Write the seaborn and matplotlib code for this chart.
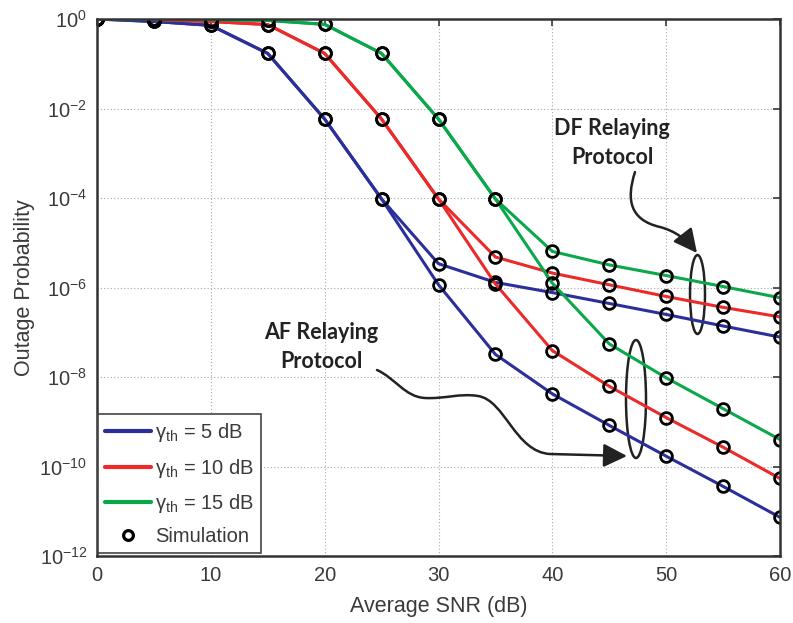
import numpy as np
import pandas as pd
import matplotlib
matplotlib.use("Agg")
import matplotlib.pyplot as plt
import seaborn as sns
from matplotlib.path import Path
from matplotlib.patches import FancyArrowPatch, Ellipse
from matplotlib.lines import Line2D

# ---- data -------------------------------------------------------------
snr_db = [0, 5, 10, 15, 20, 25, 30, 35, 40, 45, 50, 55, 60]
threshold_labels = ["5", "10", "15"]

# outage probability, gamma_th = 5 dB
p5_df = [1.0, 0.88, 0.72, 0.17, 5.8e-3, 9.5e-5, 3.4e-6, 1.3e-6, 7.7e-7, 4.4e-7, 2.5e-7, 1.38e-7, 7.8e-8]
p5_af = [1.0, 0.88, 0.72, 0.17, 5.8e-3, 9.5e-5, 1.15e-6, 3.2e-8, 4.2e-9, 8.3e-10, 1.7e-10, 3.6e-11, 7.3e-12]
# gamma_th = 10 dB
p10_df = [1.0, 0.97, 0.88, 0.75, 0.17, 5.8e-3, 9.5e-5, 4.8e-6, 2.1e-6, 1.15e-6, 6.3e-7, 3.6e-7, 2.2e-7]
p10_af = [1.0, 0.97, 0.88, 0.75, 0.17, 5.8e-3, 9.5e-5, 1.2e-6, 3.9e-8, 6.2e-9, 1.24e-9, 2.7e-10, 5.4e-11]
# gamma_th = 15 dB
p15_df = [1.0, 0.98, 0.97, 0.93, 0.76, 0.17, 5.8e-3, 9.5e-5, 6.4e-6, 3.2e-6, 1.85e-6, 1.05e-6, 5.9e-7]
p15_af = [1.0, 0.98, 0.97, 0.93, 0.76, 0.17, 5.8e-3, 9.5e-5, 1.25e-6, 5.5e-8, 9.6e-9, 1.96e-9, 4.0e-10]

y_exponents = [0, -2, -4, -6, -8, -10, -12]
x_ticks = [0, 10, 20, 30, 40, 50, 60]

curves = {
    ("5", "DF"): p5_df, ("5", "AF"): p5_af,
    ("10", "DF"): p10_df, ("10", "AF"): p10_af,
    ("15", "DF"): p15_df, ("15", "AF"): p15_af,
}
rows = []
for (th, proto), vals in curves.items():
    for s, p in zip(snr_db, vals):
        rows.append({"snr": s, "p": p, "threshold": th, "protocol": proto})
df = pd.DataFrame(rows)

# ---- style -------------------------------------------------------------
sns.set_style("white")
plt.rcParams["font.family"] = ["Liberation Sans", "DejaVu Sans"]
plt.rcParams["mathtext.fontset"] = "custom"
plt.rcParams["mathtext.rm"] = "Liberation Sans"

palette = {"5": "#2b2f9c", "10": "#ec2a2a", "15": "#0aa84a"}
ink = "#3a3a3a"

fig = plt.figure(figsize=(7.93, 6.23), dpi=100)
W, H = 793, 623
L, R, T, B = 97, 780, 19, 556
ax = fig.add_axes([L / W, 1 - B / H, (R - L) / W, (B - T) / H])
ax.set_yscale("log")

for th in threshold_labels:
    for proto in ["DF", "AF"]:
        sub = df[(df.threshold == th) & (df.protocol == proto)]
        sns.lineplot(data=sub, x="snr", y="p", ax=ax, color=palette[th],
                     lw=2.2, marker="o", markersize=8.5, markerfacecolor="none",
                     markeredgecolor="black", markeredgewidth=2.0, legend=False)

ax.set_xlim(0, 60)
ax.set_ylim(1e-12, 1)
ax.set_xticks(x_ticks)
ax.set_xticklabels([str(v) for v in x_ticks])
ax.set_yticks([10.0 ** e for e in y_exponents])
ax.set_yticklabels([r"$\mathregular{10^{%d}}$" % e for e in y_exponents])
ax.minorticks_off()
ax.tick_params(direction="in", top=True, right=True, length=5, width=1.2,
               labelsize=14.5, colors=ink, pad=7)
for sp in ax.spines.values():
    sp.set_linewidth(1.8)
    sp.set_color("#333333")
ax.grid(True, which="major", ls=(0, (1, 2)), color="#a8a8a8", lw=0.8)

ax.set_xlabel("Average SNR (dB)", fontsize=15.5, color=ink, labelpad=8)
ax.set_ylabel("Outage Probability", fontsize=15.5, color=ink, labelpad=3)

# ---- legend ------------------------------------------------------------
handles = [Line2D([], [], color=palette[th], lw=3) for th in threshold_labels]
handles.append(Line2D([], [], ls="none", marker="o", ms=7, mfc="none",
                      mec="black", mew=2.3))
labels = [r"γ$_{\mathregular{th}}$ = %s dB" % th for th in threshold_labels] + ["Simulation"]
leg = ax.legend(handles, labels, loc="lower left", bbox_to_anchor=(0.0015, 0.006),
                borderaxespad=0, fontsize=14.5, frameon=True, fancybox=False,
                edgecolor="#444444", framealpha=1, handlelength=2.3,
                handletextpad=0.2, labelspacing=0.6, borderpad=0.35)
leg.get_frame().set_linewidth(1.2)
for t in leg.get_texts():
    t.set_color(ink)


# ---- protocol annotations ----------------------------------------------
def frac(px, py):
    return ((px - L) / (R - L), (B - py) / (B - T))


note_font = dict(family="Lato", weight="bold", fontsize=15.5, color="#222222",
                 ha="center", va="center", linespacing=1.5, transform=ax.transAxes)
ax.text(*frac(612, 143), "DF Relaying\nProtocol", **note_font)
ax.text(*frac(321, 347), "AF Relaying\nProtocol", **note_font)

df_pts = [(635, 172), (626, 200), (630, 220), (660, 227),
          (675, 231), (686, 239), (697, 253)]
df_codes = [Path.MOVETO] + [Path.CURVE4] * 6
af_pts = [(377, 370), (395, 378), (405, 397), (425, 398),
          (445, 399), (460, 393), (478, 396),
          (505, 400), (515, 452), (550, 454),
          (627, 456)]
af_codes = [Path.MOVETO] + [Path.CURVE4] * 9 + [Path.LINETO]

for pts, codes in [(df_pts, df_codes), (af_pts, af_codes)]:
    arrow = FancyArrowPatch(path=Path([frac(*p) for p in pts], codes),
                            arrowstyle="-|>,head_length=0.9,head_width=0.45",
                            mutation_scale=16, lw=1.8, color="#222222",
                            transform=ax.transAxes)
    ax.add_patch(arrow)

for cx, cy, w, h in [(697.5, 294.5, 15, 79), (636, 399, 20, 118)]:
    ax.add_patch(Ellipse(frac(cx, cy), w / (R - L), h / (B - T),
                         transform=ax.transAxes, fill=False, lw=1.8,
                         ec="#222222"))

fig.savefig("out.png", dpi=100)
